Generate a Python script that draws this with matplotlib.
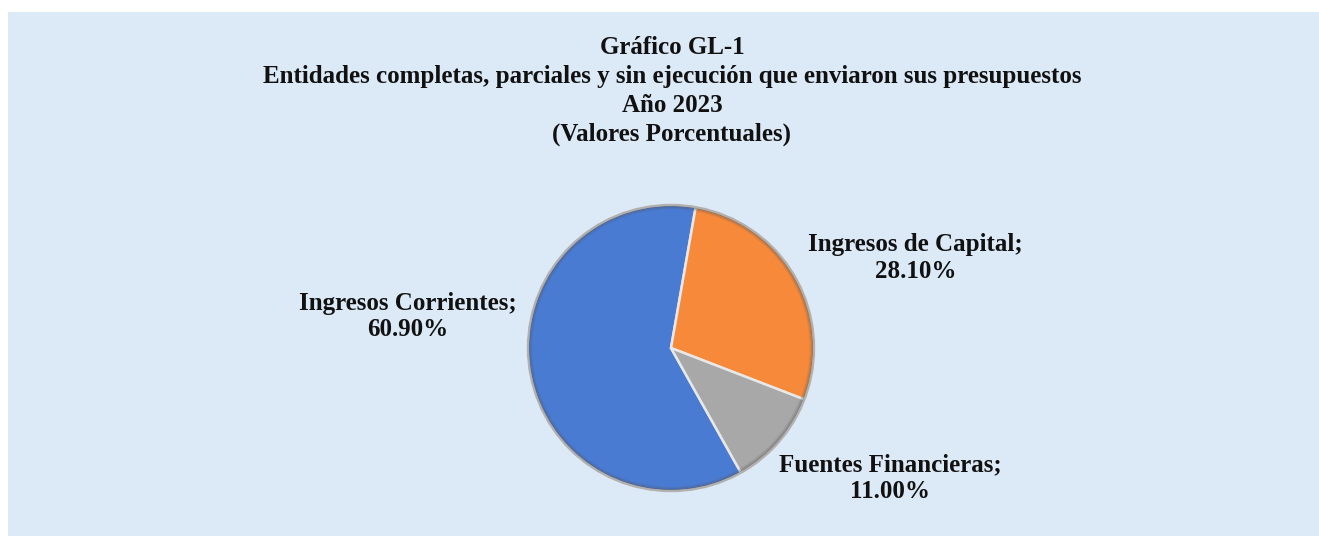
import matplotlib.pyplot as plt
from matplotlib.patches import Rectangle, Circle

# Data
categorias = ['Ingresos Corrientes', 'Ingresos de Capital', 'Fuentes Financieras']
porcentajes = [60.90, 28.10, 11.00]
colores = ['#4a7bd3', '#f78a3a', '#a8a8a8']

titulo = ['Gráfico GL-1',
          'Entidades completas, parciales y sin ejecución que enviaron sus presupuestos',
          'Año 2023',
          '(Valores Porcentuales)']

W, H = 1319, 536
fig = plt.figure(figsize=(W / 100, H / 100), dpi=100)
fig.patch.set_facecolor('white')

# light blue panel
fig.patches.append(Rectangle((8 / W, 0), 1 - 8 / W, 1 - 12 / H,
                             transform=fig.transFigure, facecolor='#dce9f6',
                             edgecolor='none', zorder=0))

font = dict(family='Liberation Serif', weight='bold', color='#111111')

# title lines
for i, linea in enumerate(titulo):
    fig.text(672 / W, 1 - (48 + 28.7 * i) / H, linea, ha='center', va='center',
             fontsize=18, zorder=3, **font)

# pie axes
cx, cy, r = 671, 348, 146
ax = fig.add_axes([(cx - r) / W, (H - cy - r) / H, 2 * r / W, 2 * r / H])
ax.set_zorder(2)
ax.set_facecolor('none')
wedges, _ = ax.pie(porcentajes, colors=colores, startangle=-60.7,
                   counterclock=False, radius=1.0,
                   wedgeprops=dict(edgecolor='#e8e8e8', linewidth=1.8))
# soft bevel along the rim
for k, a in zip([0.995, 0.985, 0.975], [0.45, 0.25, 0.12]):
    ax.add_patch(Circle((0, 0), k, facecolor='none', edgecolor='#555555',
                        linewidth=1.5, alpha=a, zorder=5))
ax.add_patch(Circle((0, 0), 1.0, facecolor='none', edgecolor='#b0b0b0',
                    linewidth=1.5, zorder=6))
ax.set_xlim(-1.02, 1.02)
ax.set_ylim(-1.02, 1.02)
ax.set_aspect('equal')
ax.axis('off')

# data labels
pos = [(-1.84, 0.22), (1.71, 0.63), (1.53, -0.91)]
for (x, y), cat, val in zip(pos, categorias, porcentajes):
    ax.text(x, y, f'{cat};\n{val:.2f}%', ha='center', va='center',
            fontsize=18, linespacing=1.2, clip_on=False, **font)

fig.savefig('out.png', dpi=100)
